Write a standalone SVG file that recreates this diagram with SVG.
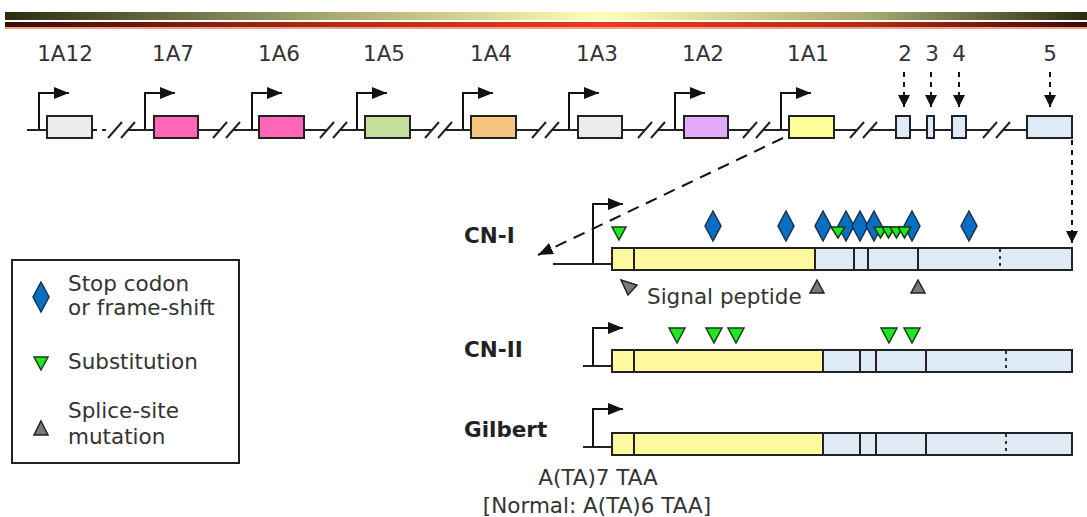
<svg xmlns="http://www.w3.org/2000/svg" width="1087" height="517" viewBox="0 0 1087 517">
<defs>
<linearGradient id="gTop" x1="0" y1="0" x2="1" y2="0">
<stop offset="0" stop-color="#2c2c12"/><stop offset="0.3" stop-color="#a8a870"/><stop offset="0.55" stop-color="#ffffb4"/><stop offset="0.8" stop-color="#a8a870"/><stop offset="1" stop-color="#2c2c12"/>
</linearGradient>
<linearGradient id="gRed" x1="0" y1="0" x2="1" y2="0">
<stop offset="0" stop-color="#3a0c04"/><stop offset="0.3" stop-color="#b02a10"/><stop offset="0.55" stop-color="#ee3a18"/><stop offset="0.8" stop-color="#b02a10"/><stop offset="1" stop-color="#3a0c04"/>
</linearGradient>
<marker id="arr" markerUnits="userSpaceOnUse" markerWidth="15" markerHeight="12" refX="15" refY="6" orient="auto">
<path d="M0,0 L15,6 L0,12 z" fill="#111"/>
</marker>
<marker id="arrS" markerUnits="userSpaceOnUse" markerWidth="12" markerHeight="12" refX="12" refY="6" orient="auto">
<path d="M0,0 L12,6 L0,12 z" fill="#111"/>
</marker>
</defs>
<style>
.ln{stroke:#222;stroke-width:2;fill:none}
.bx{stroke:#222;stroke-width:2}
.dv{stroke:#222;stroke-width:2}
.dot{stroke:#333;stroke-width:2;stroke-dasharray:3 4}
.prom{stroke:#111;stroke-width:2;fill:none;marker-end:url(#arr)}
.dash{stroke:#111;stroke-width:2;fill:none;stroke-dasharray:5 5}
.dash2{stroke:#111;stroke-width:2;fill:none;stroke-dasharray:12 8}
.t{font-family:"DejaVu Sans",Verdana,sans-serif;font-size:21.5px;fill:#333}
.tb{font-family:"DejaVu Sans",Verdana,sans-serif;font-size:21.5px;font-weight:bold;fill:#222}
.dm{fill:#0a6fc2;stroke:#17324d;stroke-width:1.5}
.gr{fill:#1ee81e;stroke:#1a3a1a;stroke-width:1.5}
.gy{fill:#7a7a7a;stroke:#222;stroke-width:1.5}
.ex{fill:#deebf7}
.yl{fill:#fff9a0}
</style>
<rect x="5" y="12" width="1082" height="8" fill="url(#gTop)"/>
<rect x="5" y="22" width="1082" height="5" fill="url(#gRed)"/>
<rect x="5" y="27" width="1082" height="2" fill="#f0a090"/>

<g id="backbone">
<path class="ln" d="M27,130 H97 M102,130 H106 M128,130 H220 M233,130 H327 M340,130 H432 M445,130 H539 M552,130 H645 M658,130 H750 M763,130 H857 M870,130 H990 M1003,130 H1027"/>
<path class="ln" d="M108,138 L122,122 M121,138 L135,122 M213,138 L227,122 M226,138 L240,122 M320,138 L334,122 M333,138 L347,122 M425,138 L439,122 M438,138 L452,122 M532,138 L546,122 M545,138 L559,122 M638,138 L652,122 M651,138 L665,122 M743,138 L757,122 M756,138 L770,122 M850,138 L864,122 M863,138 L877,122 M983,138 L997,122 M996,138 L1010,122"/>
</g>

<g id="exon-1A12"><path class="prom" d="M39,130 V93 H69"/><rect class="bx" x="47" y="116" width="45" height="22" fill="#ebebeb"/><text class="t" x="65" y="61" text-anchor="middle">1A12</text></g>
<g id="exon-1A7"><path class="prom" d="M145,130 V93 H175"/><rect class="bx" x="154" y="116" width="44" height="22" fill="#ff66b6"/><text class="t" x="173" y="61" text-anchor="middle">1A7</text></g>
<g id="exon-1A6"><path class="prom" d="M252,130 V93 H282"/><rect class="bx" x="259" y="116" width="45" height="22" fill="#ff66b6"/><text class="t" x="279" y="61" text-anchor="middle">1A6</text></g>
<g id="exon-1A5"><path class="prom" d="M357,130 V93 H387"/><rect class="bx" x="365" y="116" width="45" height="22" fill="#c4df9b"/><text class="t" x="384" y="61" text-anchor="middle">1A5</text></g>
<g id="exon-1A4"><path class="prom" d="M463,130 V93 H493"/><rect class="bx" x="471" y="116" width="45" height="22" fill="#f6c57f"/><text class="t" x="491" y="61" text-anchor="middle">1A4</text></g>
<g id="exon-1A3"><path class="prom" d="M569,130 V93 H599"/><rect class="bx" x="578" y="116" width="44" height="22" fill="#ebebeb"/><text class="t" x="597" y="61" text-anchor="middle">1A3</text></g>
<g id="exon-1A2"><path class="prom" d="M675,130 V93 H705"/><rect class="bx" x="684" y="116" width="44" height="22" fill="#e2aafa"/><text class="t" x="703" y="61" text-anchor="middle">1A2</text></g>
<g id="exon-1A1"><path class="prom" d="M781,130 V93 H811"/><rect class="bx" x="789" y="116" width="45" height="22" fill="#ffff99"/><text class="t" x="808" y="61" text-anchor="middle">1A1</text></g>
<g id="exon-2"><rect class="bx ex" x="896" y="116" width="14" height="22"/><text class="t" x="905" y="61" text-anchor="middle">2</text></g>
<g id="exon-3"><rect class="bx ex" x="927" y="116" width="7" height="22"/><text class="t" x="932" y="61" text-anchor="middle">3</text></g>
<g id="exon-4"><rect class="bx ex" x="952" y="116" width="14" height="22"/><text class="t" x="959" y="61" text-anchor="middle">4</text></g>
<g id="exon-5"><rect class="bx ex" x="1027" y="116" width="45" height="22"/><text class="t" x="1050" y="61" text-anchor="middle">5</text></g>

<g id="connectors">
<path class="dash" d="M904,72 V107" marker-end="url(#arrS)"/>
<path class="dash" d="M931,72 V107" marker-end="url(#arrS)"/>
<path class="dash" d="M959,72 V107" marker-end="url(#arrS)"/>
<path class="dash" d="M1050,72 V107" marker-end="url(#arrS)"/>
<path class="dash2" d="M783,138 L538,255" marker-end="url(#arr)"/>
<path class="dash" d="M1072,140 V243" marker-end="url(#arrS)"/>
</g>

<g id="CN-I">
<text class="tb" x="464" y="243">CN-I</text>
<path class="ln" d="M553,264 H612"/>
<path class="prom" d="M593,264 V204 H623"/>
<rect class="yl" x="612" y="248" width="203" height="22"/>
<rect class="ex" x="815" y="248" width="257" height="22"/>
<rect x="612" y="248" width="460" height="22" fill="none" stroke="#222" stroke-width="2"/>
<path class="dv" d="M634,248 V270 M815,248 V270 M854,248 V270 M868,248 V270 M918,248 V270"/>
<path class="dot" d="M1000,249 V270"/>
<path class="dm" d="M713,211 L721,226 L713,241 L705,226 z"/>
<path class="dm" d="M786,211 L794,226 L786,241 L778,226 z"/>
<path class="dm" d="M823,211 L831,226 L823,241 L815,226 z"/>
<path class="dm" d="M846,211 L854,226 L846,241 L838,226 z"/>
<path class="dm" d="M860,211 L868,226 L860,241 L852,226 z"/>
<path class="dm" d="M874,211 L882,226 L874,241 L866,226 z"/>
<path class="dm" d="M912,211 L920,226 L912,241 L904,226 z"/>
<path class="dm" d="M969,211 L977,226 L969,241 L961,226 z"/>
<path class="gr" d="M612,227 H626 L619,240 z"/>
<path class="gr" d="M831,227 H845 L838,238 z"/>
<path class="gr" d="M874,227 H887 L880.5,238 z"/>
<path class="gr" d="M882,227 H895 L888.5,238 z"/>
<path class="gr" d="M890,227 H903 L896.5,238 z"/>
<path class="gr" d="M898,227 H911 L904.5,238 z"/>
<path class="gy" d="M621,280 L637,285 L628,295 z"/>
<path class="gy" d="M817,280 L824,293 L810,293 z"/>
<path class="gy" d="M918,280 L925,293 L911,293 z"/>
<text class="t" x="647" y="304">Signal peptide</text>
</g>

<g id="CN-II">
<text class="tb" x="464" y="357">CN-II</text>
<path class="ln" d="M583,366 H612"/>
<path class="prom" d="M593,366 V328 H623"/>
<rect class="yl" x="612" y="350" width="211" height="22"/>
<rect class="ex" x="823" y="350" width="249" height="22"/>
<rect x="612" y="350" width="460" height="22" fill="none" stroke="#222" stroke-width="2"/>
<path class="dv" d="M634,350 V372 M823,350 V372 M860,350 V372 M876,350 V372 M926,350 V372"/>
<path class="dot" d="M1006,351 V372"/>
<path class="gr" d="M669,328 H685 L677,343 z"/>
<path class="gr" d="M706,328 H722 L714,343 z"/>
<path class="gr" d="M728,328 H744 L736,343 z"/>
<path class="gr" d="M881,328 H897 L889,343 z"/>
<path class="gr" d="M904,328 H920 L912,343 z"/>
</g>

<g id="Gilbert">
<text class="tb" x="464" y="437">Gilbert</text>
<path class="ln" d="M583,447 H612"/>
<path class="prom" d="M593,447 V409 H623"/>
<rect class="yl" x="612" y="433" width="211" height="22"/>
<rect class="ex" x="823" y="433" width="249" height="22"/>
<rect x="612" y="433" width="460" height="22" fill="none" stroke="#222" stroke-width="2"/>
<path class="dv" d="M634,433 V455 M823,433 V455 M860,433 V455 M876,433 V455 M926,433 V455"/>
<path class="dot" d="M1006,434 V455"/>
<text class="t" x="598" y="485" text-anchor="middle">A(TA)7 TAA</text>
<text class="t" x="597" y="513" text-anchor="middle">[Normal: A(TA)6 TAA]</text>
</g>

<g id="legend">
<rect x="12" y="260" width="227" height="203" fill="#fff" stroke="#222" stroke-width="2"/>
<path class="dm" d="M41,282 L49,297 L41,312 L33,297 z"/>
<text class="t" x="68" y="291">Stop codon</text>
<text class="t" x="68" y="315">or frame-shift</text>
<path class="gr" d="M34,357 H48 L41,370 z"/>
<text class="t" x="68" y="369">Substitution</text>
<path class="gy" d="M41,421 L48,435 L34,435 z"/>
<text class="t" x="68" y="418">Splice-site</text>
<text class="t" x="68" y="444">mutation</text>
</g>
</svg>
